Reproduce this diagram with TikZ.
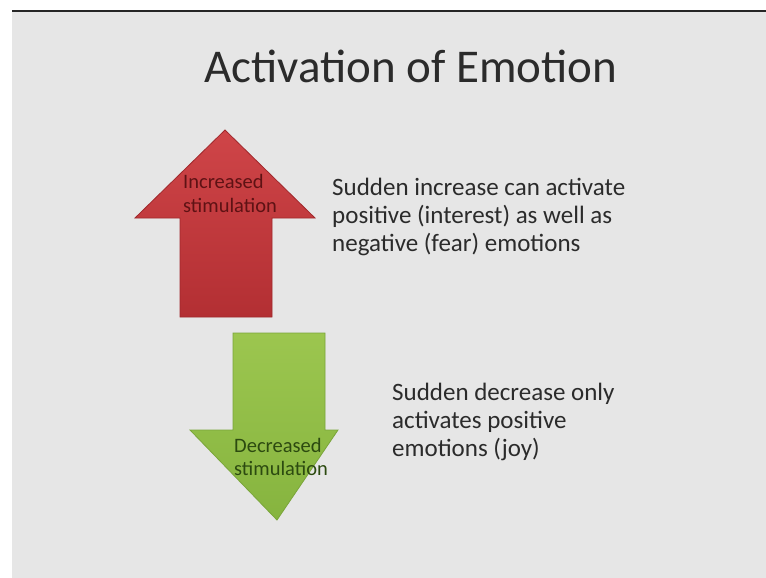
\documentclass[tikz,border=0pt]{standalone}
\usepackage{fontspec}
\setmainfont{Carlito}
\definecolor{slidebg}{HTML}{E6E6E6}
\definecolor{bodytext}{HTML}{2B2B2B}
\definecolor{redtop}{HTML}{CF4548}
\definecolor{redbot}{HTML}{B32F33}
\definecolor{redline}{HTML}{A0282C}
\definecolor{redlabel}{HTML}{5E1214}
\definecolor{greentop}{HTML}{9CC64F}
\definecolor{greenbot}{HTML}{86B43F}
\definecolor{greenline}{HTML}{7AA53A}
\definecolor{greenlabel}{HTML}{2C4A10}
\tikzset{
  title/.style={font=\fontsize{47}{52}\selectfont, text=bodytext, inner sep=0pt, anchor=base},
  body/.style={font=\fontsize{25}{28}\selectfont, text=bodytext, align=left, anchor=base west, inner sep=0pt},
  uplabel/.style={font=\fontsize{20.5}{24}\selectfont, text=redlabel, align=left, anchor=base west, inner sep=0pt},
  downlabel/.style={font=\fontsize{20.5}{23}\selectfont, text=greenlabel, align=left, anchor=base west, inner sep=0pt},
  uparrow/.style={draw=redline, line width=0.8pt, top color=redtop, bottom color=redbot, line join=miter},
  downarrow/.style={draw=greenline, line width=0.8pt, top color=greentop, bottom color=greenbot, line join=miter}
}
\begin{document}
\begin{tikzpicture}[x=1pt, y=-1pt]
  \useasboundingbox (0,0) rectangle (766,578);
  % page and slide
  \fill[white] (0,0) rectangle (766,578);
  \fill[slidebg] (12,12) rectangle (766,578);
  \draw[black!85, line width=1.5pt] (12,11) -- (766,11);

  % title
  \node[title] (title) at (411,82) {Activation of Emotion};

  % upward arrow (labels are placed by the baseline of their last line)
  \path[uparrow] (225,130) -- (315,218) -- (272,218) -- (272,317)
     -- (180,317) -- (180,218) -- (135,218) -- cycle;
  \node[uplabel] (uptext) at (183,212) {Increased\\stimulation};

  % downward arrow
  \path[downarrow] (233,333) -- (325,333) -- (325,430) -- (338,430)
     -- (277,520) -- (190,430) -- (233,430) -- cycle;
  \node[downlabel] (downtext) at (234,475) {Decreased\\stimulation};

  % descriptions
  \node[body] (incdesc) at (332,251) {Sudden increase can activate\\positive (interest) as well as\\negative (fear) emotions};
  \node[body] (decdesc) at (392,456) {Sudden decrease only\\activates positive\\emotions (joy)};
\end{tikzpicture}
\end{document}
